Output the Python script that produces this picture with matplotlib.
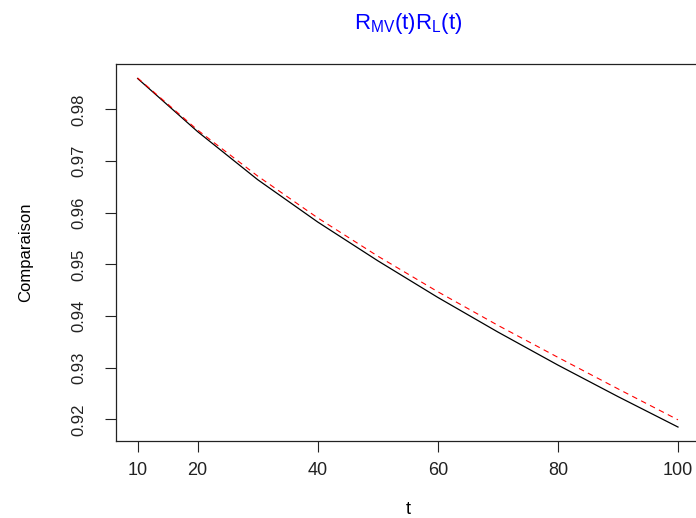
import matplotlib
matplotlib.use('Agg')
import matplotlib.pyplot as plt


t = [10, 20, 30, 40, 50, 60, 70, 80, 90, 100]
r_mv = [0.9860, 0.9757, 0.9664, 0.9582, 0.9507, 0.9436, 0.9369, 0.9305, 0.9244, 0.9185]
r_l = [0.9861, 0.9760, 0.9671, 0.9590, 0.9516, 0.9447, 0.9382, 0.9320, 0.9259, 0.9199]

xticks = [10, 20, 40, 60, 80, 100]
yticks = [0.92, 0.93, 0.94, 0.95, 0.96, 0.97, 0.98]


def main():
	plt.rcParams['font.family'] = ['Liberation Sans', 'DejaVu Sans']
	plt.rcParams['mathtext.fontset'] = 'custom'
	plt.rcParams['mathtext.rm'] = 'Liberation Sans'
	plt.rcParams['mathtext.it'] = 'Liberation Sans'

	fig = plt.figure(figsize=(6.96, 5.18), dpi=100)
	# plot region runs a bit past the right edge, like the cropped original
	ax = fig.add_axes([116/696, 1 - 441/518, (699.6 - 116)/696, (441 - 64)/518])

	ax.plot(t, r_mv, color='black', lw=0.9)
	ax.plot(t, r_l, color='red', lw=0.8, linestyle=(0, (5, 4)))

	# R style 4% padding
	lo = min(min(r_mv), min(r_l))
	hi = max(max(r_mv), max(r_l))
	r = hi - lo
	ax.set_ylim(lo - 0.04*r, hi + 0.04*r)
	ax.set_xlim(10 - 0.04*90, 100 + 0.04*90)

	ax.set_xticks(xticks)
	ax.set_yticks(yticks)
	ax.set_yticklabels([f'{v:.2f}' for v in yticks], rotation=90, va='center')
	ax.tick_params(axis='both', length=8, width=0.8, colors='#222222')
	ax.tick_params(axis='x', pad=7, labelsize=13)
	ax.tick_params(axis='y', pad=13, labelsize=12)
	for sp in ax.spines.values():
		sp.set_linewidth(0.9)
		sp.set_color('#222222')

	ax.set_xlabel('t', fontsize=13, labelpad=16)
	ax.set_ylabel('Comparaison', fontsize=12, labelpad=28)

	fig.text(408/696, 1 - 23/518, r'$\mathrm{R_{MV}(t)R_L(t)}$', color='blue',
		fontsize=16, ha='center', va='center')

	fig.savefig('out.png', dpi=100)


if __name__ == '__main__':
	main()
